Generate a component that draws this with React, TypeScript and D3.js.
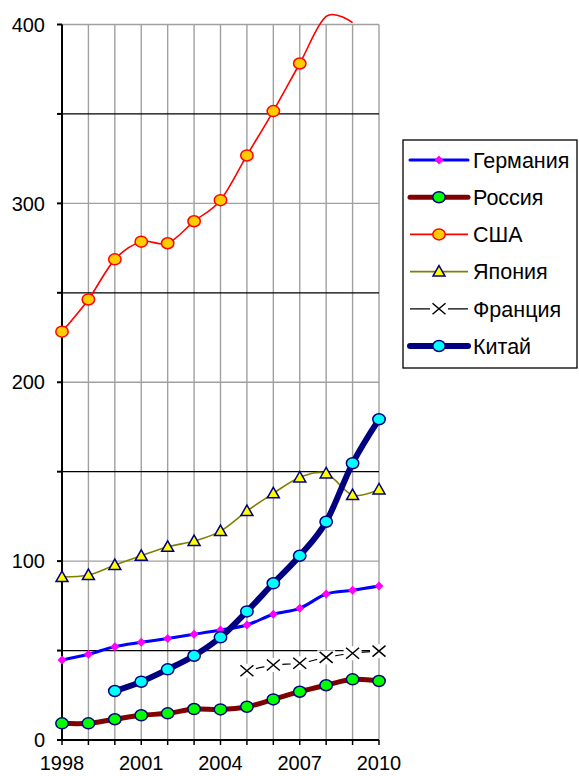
import React, { useEffect, useRef } from 'react';
import * as d3 from 'd3';

const years = [1998, 1999, 2000, 2001, 2002, 2003, 2004, 2005, 2006, 2007, 2008, 2009, 2010];
const germany = [44.7, 47.9, 52.2, 54.6, 56.8, 59.1, 61.5, 64.3, 70.3, 73.6, 81.6, 83.7, 86.1];
const russia = [9.3, 9.3, 11.6, 13.8, 14.9, 17.3, 17.1, 18.6, 22.7, 27.0, 30.6, 33.9, 33.0];
const usa = [228.3, 246.3, 268.7, 278.6, 277.7, 290, 301.8, 326.8, 351.6, 378.2, 404.5, 401, null];
const japan = [91.1, 92.2, 97.8, 103, 108, 111.2, 116.8, 128, 137.9, 146.8, 149, 136.9, 140.1];
const france = [null, null, null, null, null, null, null, 38.7, 41.9, 42.9, 46.2, 48.5, 49.7];
const china = [null, null, 27.4, 32.6, 39.5, 47.1, 57.4, 71.9, 87.6, 103, 122, 154.7, 179.3];

const yTicks = [0, 50, 100, 150, 200, 250, 300, 350, 400];
const yLabels = [0, 100, 200, 300, 400];
const xLabels = [1998, 2001, 2004, 2007, 2010];

type Series = {
  name: string;
  values: (number | null)[];
  line: string;
  lineWidth: number;
  marker: 'diamond' | 'circle' | 'triangle' | 'x';
  fill: string;
  stroke: string;
};

const series: Series[] = [
  { name: 'Германия', values: germany, line: '#0000ff', lineWidth: 3, marker: 'diamond', fill: '#ff00ff', stroke: 'none' },
  { name: 'Россия', values: russia, line: '#800000', lineWidth: 5, marker: 'circle', fill: '#00ff00', stroke: '#000080' },
  { name: 'США', values: usa, line: '#ff0000', lineWidth: 1.6, marker: 'circle', fill: '#ffcc00', stroke: '#ff0000' },
  { name: 'Япония', values: japan, line: '#808000', lineWidth: 1.6, marker: 'triangle', fill: '#ffff00', stroke: '#000080' },
  { name: 'Франция', values: france, line: '#000000', lineWidth: 1.2, marker: 'x', fill: '#000', stroke: '#000' },
  { name: 'Китай', values: china, line: '#000080', lineWidth: 6, marker: 'circle', fill: '#00ffff', stroke: '#000080' },
];

const font = 'Arial, "Liberation Sans", sans-serif';

function drawMarker(g: any, kind: string, cx: number, cy: number, fill: string, stroke: string) {
  if (kind === 'diamond') {
    g.append('path')
      .attr('d', `M${cx},${cy - 4.5}L${cx + 4.5},${cy}L${cx},${cy + 4.5}L${cx - 4.5},${cy}Z`)
      .attr('fill', fill);
  } else if (kind === 'circle') {
    g.append('ellipse')
      .attr('cx', cx).attr('cy', cy).attr('rx', 6.2).attr('ry', 5.5)
      .attr('fill', fill).attr('stroke', stroke).attr('stroke-width', 1.5);
  } else if (kind === 'triangle') {
    g.append('path')
      .attr('d', `M${cx},${cy - 6}L${cx + 6},${cy + 4.5}L${cx - 6},${cy + 4.5}Z`)
      .attr('fill', fill).attr('stroke', stroke).attr('stroke-width', 1.5);
  } else {
    g.append('rect')
      .attr('x', cx - 9).attr('y', cy - 7).attr('width', 18).attr('height', 14)
      .attr('fill', '#fff');
    g.append('path')
      .attr('d', `M${cx - 6.5},${cy - 5.5}L${cx + 6.5},${cy + 5.5}M${cx + 6.5},${cy - 5.5}L${cx - 6.5},${cy + 5.5}`)
      .attr('stroke', stroke).attr('stroke-width', 1.5).attr('fill', 'none');
  }
}

const App: React.FC = () => {
  const svgRef = useRef<SVGSVGElement>(null);
  const width = 579;
  const height = 776;

  useEffect(() => {
    const svg = d3.select(svgRef.current);
    svg.selectAll('*').remove();

    const x = d3.scaleLinear().domain([1998, 2010]).range([62, 379]);
    const y = d3.scaleLinear().domain([0, 400]).range([740, 24.5]);

    svg.append('rect').attr('width', width).attr('height', height).attr('fill', '#fff');

    // gridlines
    const grid = svg.append('g');
    grid.selectAll('line.v')
      .data(years.slice(1))
      .join('line')
      .attr('x1', d => x(d)).attr('x2', d => x(d))
      .attr('y1', y(0)).attr('y2', y(400))
      .attr('stroke', '#a0a0a0').attr('stroke-width', 1.4);
    grid.selectAll('line.h')
      .data(yTicks.slice(1))
      .join('line')
      .attr('x1', x(1998)).attr('x2', x(2010))
      .attr('y1', d => y(d)).attr('y2', d => y(d))
      .attr('stroke', d => (d % 100 === 0 ? '#a0a0a0' : '#000'))
      .attr('stroke-width', d => (d % 100 === 0 ? 1.4 : 1.2));

    // axes
    const ax = svg.append('g');
    ax.append('line')
      .attr('x1', x(1998)).attr('x2', x(1998)).attr('y1', y(0)).attr('y2', y(400))
      .attr('stroke', '#000').attr('stroke-width', 2);
    ax.append('line')
      .attr('x1', x(1998)).attr('x2', x(2010)).attr('y1', y(0)).attr('y2', y(0))
      .attr('stroke', '#000').attr('stroke-width', 2);
    ax.selectAll('line.yt')
      .data(yTicks)
      .join('line')
      .attr('x1', x(1998) - 5).attr('x2', x(1998))
      .attr('y1', d => y(d)).attr('y2', d => y(d))
      .attr('stroke', '#000').attr('stroke-width', 2);
    ax.selectAll('line.xt')
      .data(years)
      .join('line')
      .attr('x1', d => x(d)).attr('x2', d => x(d))
      .attr('y1', y(0)).attr('y2', y(0) + 5)
      .attr('stroke', '#000').attr('stroke-width', 1.5);
    ax.selectAll('text.yl')
      .data(yLabels)
      .join('text')
      .attr('x', 45).attr('y', d => y(d))
      .attr('dy', '0.36em')
      .attr('text-anchor', 'end')
      .style('font-family', font).style('font-size', '20px')
      .text(d => d);
    ax.selectAll('text.xl')
      .data(xLabels)
      .join('text')
      .attr('x', d => x(d)).attr('y', 770)
      .attr('text-anchor', 'middle')
      .style('font-family', font).style('font-size', '20px')
      .text(d => d);

    // series
    const line = d3.line<[number, number | null]>()
      .defined(d => d[1] !== null)
      .x(d => x(d[0]))
      .y(d => y(d[1] as number))
      .curve(d3.curveCardinal.tension(0));

    series.forEach(s => {
      const pts = years.map((yr, i) => [yr, s.values[i]] as [number, number | null]);
      const g = svg.append('g');
      g.append('path')
        .attr('d', line(pts))
        .attr('fill', 'none')
        .attr('stroke', s.line)
        .attr('stroke-width', s.lineWidth)
        .attr('stroke-linejoin', 'round');
      pts.forEach(p => {
        if (p[1] === null || p[1] > 400) return; // маркеры за пределами оси не рисуются
        drawMarker(g, s.marker, x(p[0]), y(p[1]), s.fill, s.stroke);
      });
    });

    // legend
    const lg = svg.append('g');
    lg.append('rect')
      .attr('x', 403).attr('y', 140).attr('width', 174).attr('height', 228)
      .attr('fill', '#fff').attr('stroke', '#000').attr('stroke-width', 1.3);
    series.forEach((s, i) => {
      const cy = 160 + i * 37.2;
      lg.append('line')
        .attr('x1', 410).attr('x2', 468).attr('y1', cy).attr('y2', cy)
        .attr('stroke', s.line).attr('stroke-width', s.lineWidth)
        .attr('stroke-linecap', s.lineWidth > 2 ? 'round' : 'butt');
      drawMarker(lg, s.marker, 439, cy, s.fill, s.stroke);
      lg.append('text')
        .attr('x', 473).attr('y', cy).attr('dy', '0.36em')
        .style('font-family', font).style('font-size', '21.5px')
        .text(s.name);
    });
  }, []);

  return (
    <svg ref={svgRef} width={width} height={height}
      style={{ position: 'absolute', left: 0, top: 0, display: 'block' }} />
  );
};

export default App;
